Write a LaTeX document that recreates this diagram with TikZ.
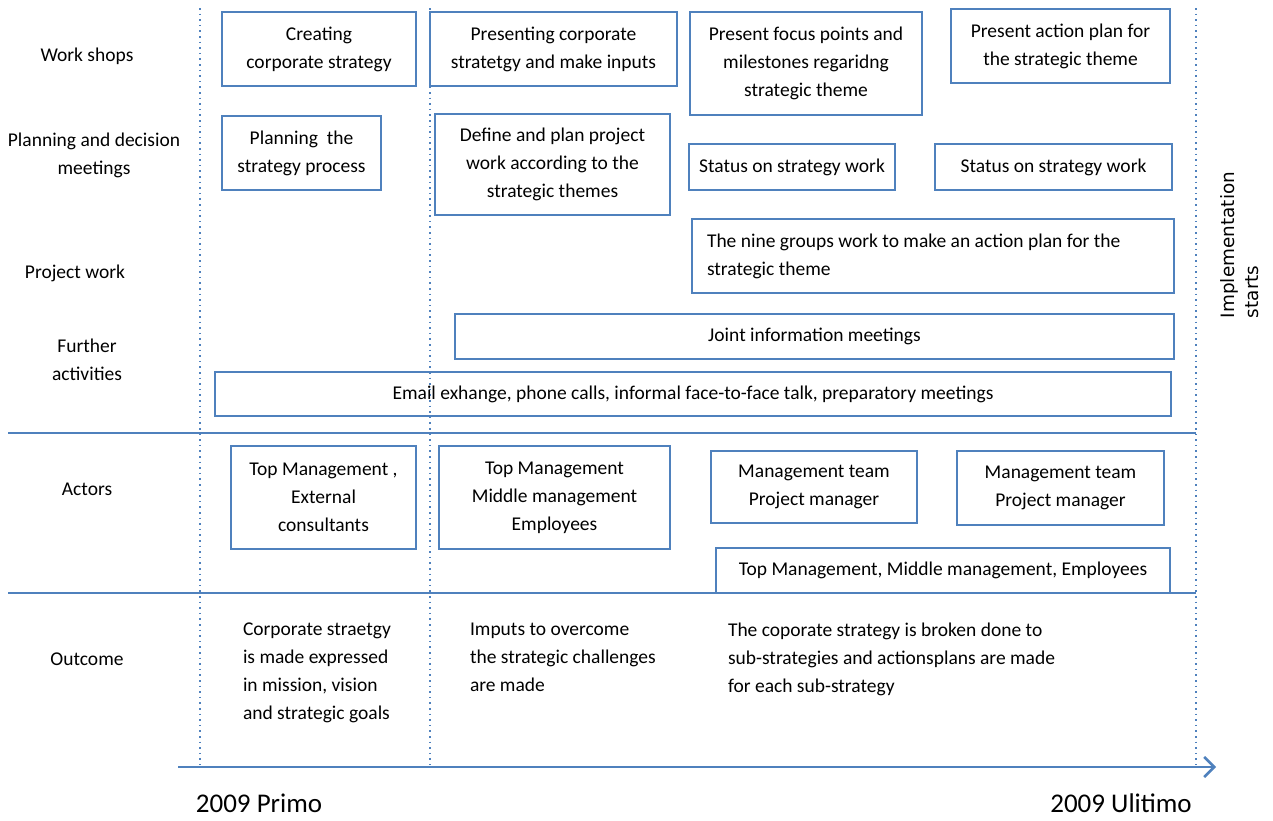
\documentclass[tikz,border=0pt]{standalone}
\usepackage{fontspec}
\setmainfont{Carlito}
\newfontfamily\sidefont{DejaVu Sans}
\usepackage{tikz}
\usetikzlibrary{arrows.meta}

\definecolor{boxblue}{RGB}{79,129,189}

\begin{document}
\begin{tikzpicture}[x=0.5pt, y=-0.5pt, line width=1pt,
    every node/.style={font=\fontsize{9.75}{14}\selectfont, inner sep=0pt},
    box/.style={draw=boxblue, line width=1pt, align=center},
    rowlabel/.style={align=center},
    outtext/.style={align=left, anchor=north west},
    sep/.style={draw=boxblue, line width=1pt},
    timeline/.style={draw=boxblue, dotted, line width=0.8pt}]
            \useasboundingbox (0,0) rectangle (1273,820);

            % draw time dividers
            \coordinate (d1top) at (200,8);   \coordinate (d1bot) at (200,765);
            \coordinate (d2top) at (430,8);   \coordinate (d2bot) at (430,765);
            \coordinate (d3top) at (1196,8);  \coordinate (d3bot) at (1196,765);
            \draw[timeline] (d1top) -- (d1bot);
            \draw[timeline] (d2top) -- (d2bot);
            \draw[timeline] (d3top) -- (d3bot);

            % draw section lines
            \coordinate (s1l) at (8,433);  \coordinate (s1r) at (1196,433);
            \coordinate (s2l) at (8,593);  \coordinate (s2r) at (1196,593);
            \draw[sep] (s1l) -- (s1r);
            \draw[sep] (s2l) -- (s2r);

            % draw row labels
            \node[rowlabel] (workshops) at (87,56) {Work shops};
            \node[rowlabel] (planning) at (94,155) {Planning and decision\\meetings};
            \node[rowlabel] (project) at (75,273) {Project work};
            \node[rowlabel] (further) at (87,360) {Further\\activities};
            \node[rowlabel] (actors) at (87,489) {Actors};
            \node[rowlabel] (outcome) at (87,659) {Outcome};

            % draw work shops
            \node[box, minimum width=97pt, minimum height=37pt] (ws1) at (319,49) {Creating\\corporate strategy};
            \node[box, minimum width=123.5pt, minimum height=37pt] (ws2) at (553.5,49) {Presenting corporate\\stratetgy and make inputs};
            \node[box, minimum width=116pt, minimum height=51.5pt] (ws3) at (806,63.5) {Present focus points and\\milestones regaridng\\strategic theme};
            \node[box, minimum width=109.5pt, minimum height=37pt] (ws4) at (1060.5,46) {Present action plan for\\the strategic theme};

            % draw planning and decision meetings
            \node[box, minimum width=79.5pt, minimum height=37pt] (pd1) at (301.5,153) {Planning\ \ the\\strategy process};
            \node[box, minimum width=117.5pt, minimum height=50.5pt] (pd2) at (552.5,164.5) {Define and plan project\\work according to the\\strategic themes};
            \node[box, minimum width=103pt, minimum height=23pt] (pd3) at (792,167) {Status on strategy work};
            \node[box, minimum width=118.5pt, minimum height=23pt] (pd4) at (1053.5,167) {Status on strategy work};

            % draw project work and further activities
            \node[box, text width=226pt, inner xsep=7.5pt, minimum height=37pt, align=flush left] (pw1) at (933,256) {The nine groups work to make an action plan for the\\strategic theme};
            \node[box, minimum width=359.5pt, minimum height=22.5pt] (fa1) at (814.5,336.5) {Joint information meetings};
            \node[box, minimum width=478pt, minimum height=22pt] (fa2) at (693,394) {Email exhange, phone calls, informal face-to-face talk, preparatory meetings};

            % draw actors
            \node[box, minimum width=92.5pt, minimum height=51.5pt] (ac1) at (323.5,497.5) {Top Management ,\\External\\consultants};
            \node[box, minimum width=115.5pt, minimum height=51.5pt] (ac2) at (554.5,497.5) {Top Management\\Middle management\\Employees};
            \node[box, minimum width=103pt, minimum height=36pt] (ac3) at (814,487) {Management team\\Project manager};
            \node[box, minimum width=103.5pt, minimum height=37pt] (ac4) at (1060.5,488) {Management team\\Project manager};
            \node[box, minimum width=227pt, minimum height=22.5pt] (ac5) at (943,570.5) {Top Management, Middle management, Employees};

            % draw outcome
            \node[outtext] (oc1) at (242,622) {Corporate straetgy\\is made expressed\\in mission, vision\\and strategic goals};
            \node[outtext] (oc2) at (469,622) {Imputs to overcome\\the strategic challenges\\are made};
            \node[outtext] (oc3) at (727,622) {The coporate strategy is broken done to\\sub-strategies and actionsplans are made\\for each sub-strategy};

            % draw time axis
            \coordinate (tstart) at (178,767);
            \coordinate (tend) at (1216,767);
            \draw[draw=boxblue, line width=1.3pt, -{Straight Barb[length=5pt,width=10pt]}] (tstart) -- (tend);
            \node[font=\fontsize{13.5}{16}\selectfont] (primo) at (259,803) {2009 Primo};
            \node[font=\fontsize{13.5}{16}\selectfont] (ultimo) at (1121,803) {2009 Ulitimo};

            % draw implementation note
            \node[rotate=90, align=left, font=\sidefont\fontsize{9.2}{12}\selectfont] (impl) at (1240,245) {Implementation\\starts};
        \end{tikzpicture}
\end{document}
